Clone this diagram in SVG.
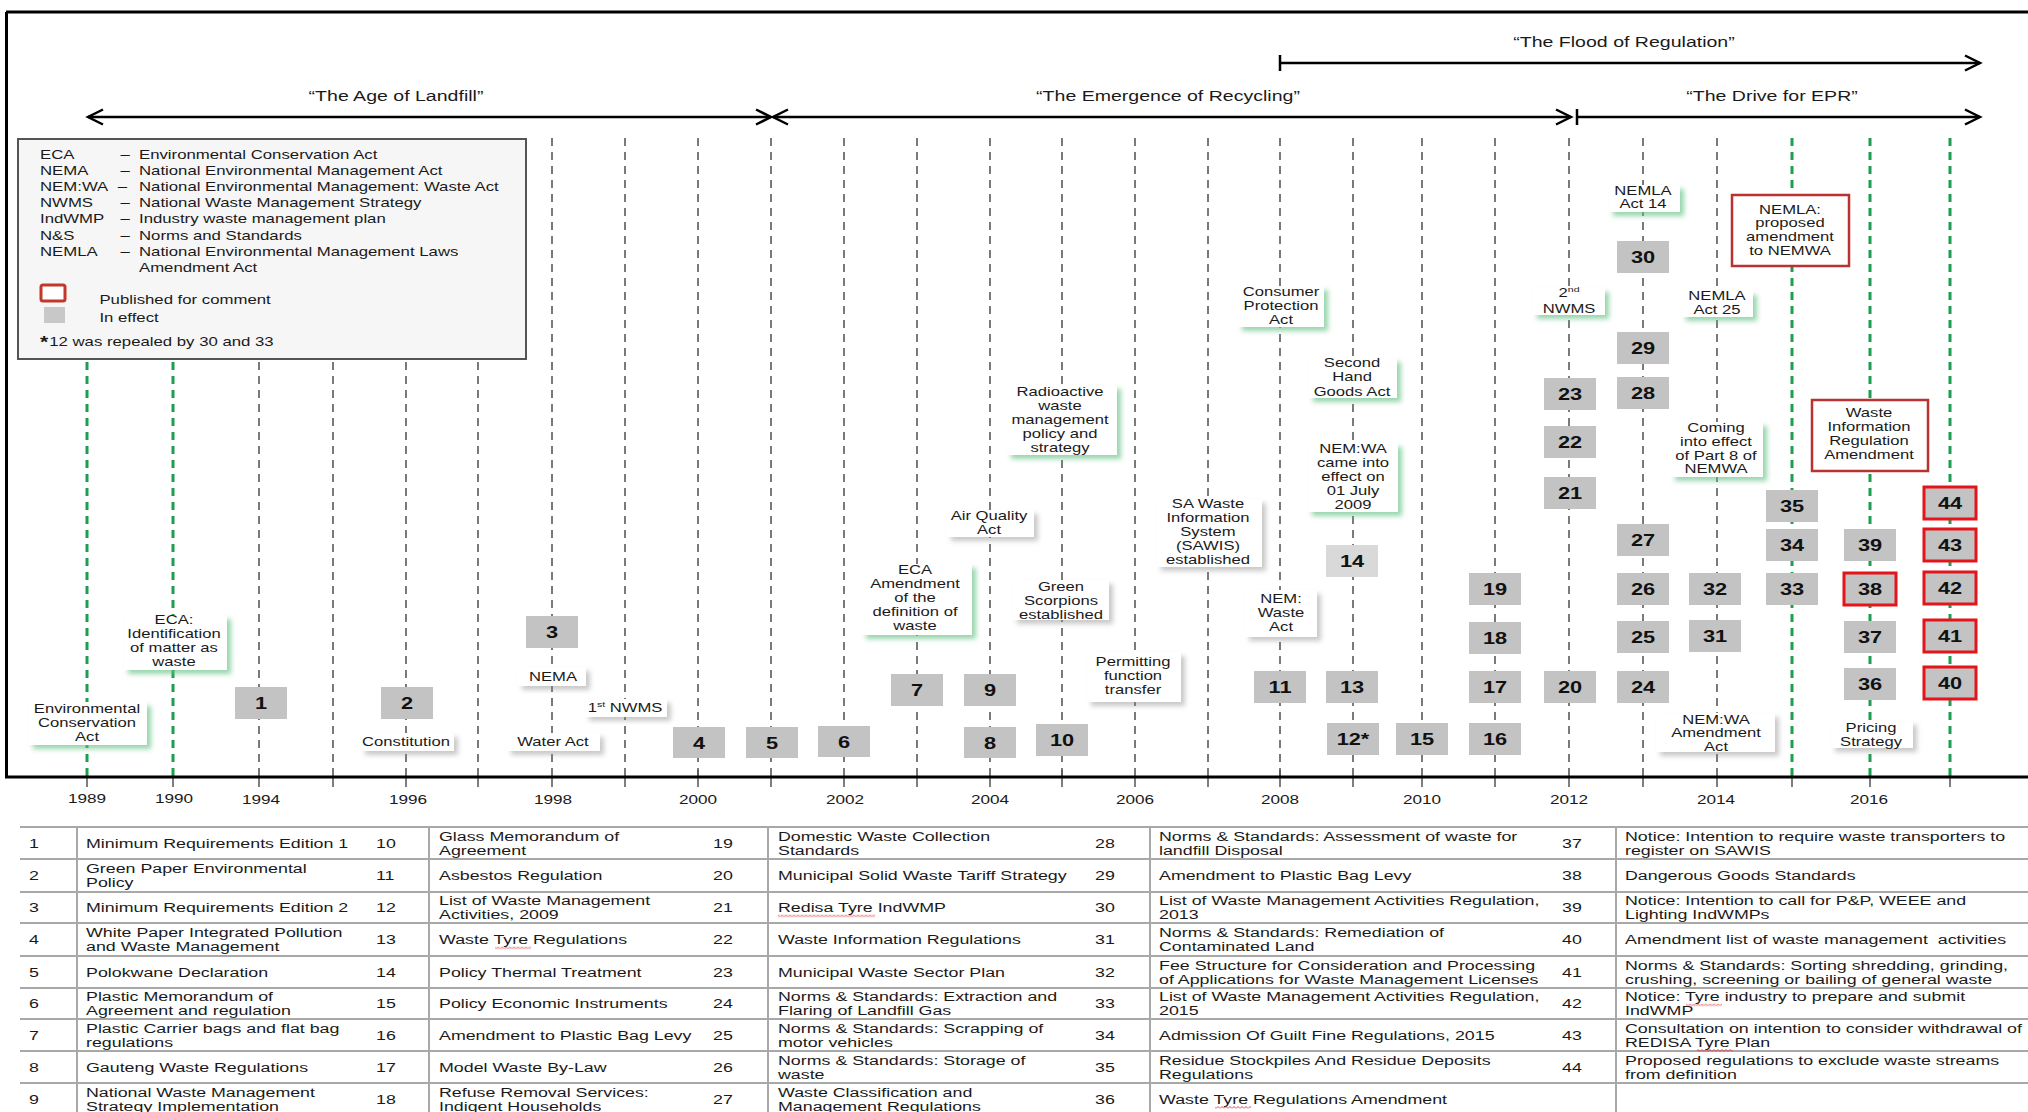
<svg xmlns="http://www.w3.org/2000/svg" width="2028" height="1112" viewBox="0 0 2028 1112">
<defs>
<style>
text{font-family:"Liberation Sans",Arial,sans-serif;fill:#1a1a1a}
.per{font-size:14.8px;text-anchor:middle}
.lg{font-size:12.7px}
.lb{font-size:12.6px;text-anchor:middle}
.num{font-size:16.5px;font-weight:bold;text-anchor:middle;fill:#111}
.yr{font-size:13px;text-anchor:middle}
.tb{font-size:13.5px}
.vg{stroke:#7a7a7a;stroke-width:2;stroke-dasharray:8 6;fill:none}
.vgr{stroke:#1f9e50;stroke-width:3;stroke-dasharray:8 6;fill:none}
.tk{stroke:#555;stroke-width:1.5;fill:none}
.frame{stroke:#000;stroke-width:3;fill:none}
.arr{stroke:#000;stroke-width:2.5;fill:none}
.nb rect{fill:#c3c3c3}
.nb.lt rect{fill:#d9d9d9}
.nb.red rect{stroke:#e3151a;stroke-width:3}
.lbx{fill:#fff}
.g{filter:url(#shg)}
.y{filter:url(#shy)}
.rbx{fill:#fff;stroke:#b83232;stroke-width:2.5}
.tl{stroke:#a8a8a8;stroke-width:2;fill:none}
.sq{fill:url(#sq)}
</style>
<filter id="shg" x="-20%" y="-20%" width="150%" height="160%"><feDropShadow dx="4" dy="4" stdDeviation="2.5" flood-color="#5fbf82" flood-opacity="0.65"/></filter>
<filter id="shy" x="-20%" y="-20%" width="150%" height="160%"><feDropShadow dx="4" dy="4" stdDeviation="2.5" flood-color="#888" flood-opacity="0.45"/></filter>
<marker id="ah" markerUnits="userSpaceOnUse" viewBox="-2 -2 20 20" markerWidth="20" markerHeight="20" refX="15" refY="7.5" orient="auto-start-reverse"><path d="M0,0 L15,7.5 L0,15" fill="none" stroke="#000" stroke-width="2.5"/></marker>
<pattern id="sq" width="4" height="3" patternUnits="userSpaceOnUse"><path d="M0,2.5 L2,0.5 L4,2.5" fill="none" stroke="#e03030" stroke-width="0.9"/></pattern>
</defs>
<rect x="0" y="0" width="2028" height="1112" fill="#fff"/>

<g id="gridlines">
<path class="vgr" d="M87,138V777M173,138V777M1792,138V777M1870,138V777M1950,138V777"/>
<path class="vg" d="M259,138V777M333,138V777M406,138V777M478,138V777M552,138V777M625,138V777M698,138V777M771,138V777M844,138V777M917,138V777M990,138V777M1062,138V777M1135,138V777M1208,138V777M1280,138V777M1353,138V777M1422,138V777M1495,138V777M1569,138V777M1643,138V777M1717,138V777"/>
<path class="tk" d="M87,777V787M173,777V787M259,777V787M333,777V787M406,777V787M478,777V787M552,777V787M625,777V787M698,770V787M771,777V787M844,777V787M917,777V787M990,777V787M1062,770V787M1135,777V787M1208,777V787M1280,770V787M1353,777V787M1422,777V787M1495,777V787M1569,777V787M1643,777V787M1717,777V787M1792,777V787M1870,777V787M1950,777V787"/>
</g>

<g id="frame">
<path class="frame" d="M6,12H2028M6.5,12V778M5,777H2028"/>
</g>

<g id="legend">
<rect x="18" y="139" width="508" height="220" fill="#f6f6f6" stroke="#555" stroke-width="2"/>
<g transform="translate(40,0) scale(1.32,1)" class="lg">
<text x="0" y="158.7">ECA</text><text x="61" y="158.7">–</text><text x="75" y="158.7">Environmental Conservation Act</text>
<text x="0" y="175">NEMA</text><text x="61" y="175">–</text><text x="75" y="175">National Environmental Management Act</text>
<text x="0" y="191.4">NEM:WA</text><text x="59" y="191.4">–</text><text x="75" y="191.4">National Environmental Management: Waste Act</text>
<text x="0" y="207.4">NWMS</text><text x="61" y="207.4">–</text><text x="75" y="207.4">National Waste Management Strategy</text>
<text x="0" y="223.4">IndWMP</text><text x="61" y="223.4" fill="#999">–</text><text x="75" y="223.4">Industry waste management plan</text>
<text x="0" y="240">N&amp;S</text><text x="61" y="240" fill="#999">–</text><text x="75" y="240">Norms and Standards</text>
<text x="0" y="256">NEMLA</text><text x="61" y="256">–</text><text x="75" y="256">National Environmental Management Laws</text>
<text x="75" y="272">Amendment Act</text>
<text x="45" y="304">Published for comment</text>
<text x="45" y="322.5">In effect</text>
<text x="0" y="348" font-weight="bold" font-size="16">*</text><text x="7" y="346.5">12 was repealed by 30 and 33</text>
</g>
<rect x="41" y="285" width="24" height="16" rx="2" fill="#fff" stroke="#c0392b" stroke-width="3"/>
<rect x="44" y="307" width="21" height="16" fill="#c8c8c8"/>
</g>

<g id="connectors">
<path class="arr" d="M1280,55V71M1577,109V125"/>
<path class="arr" d="M1280,63H1980" marker-end="url(#ah)"/>
<path class="arr" d="M88,117H771" marker-start="url(#ah)" marker-end="url(#ah)"/>
<path class="arr" d="M773,117H1571" marker-start="url(#ah)" marker-end="url(#ah)"/>
<path class="arr" d="M1577,117H1980" marker-end="url(#ah)"/>
</g>

<g id="periods">
<text class="per" transform="translate(1624,47) scale(1.32,1)">“The Flood of Regulation”</text>
<text class="per" transform="translate(396,101) scale(1.32,1)">“The Age of Landfill”</text>
<text class="per" transform="translate(1168,101) scale(1.32,1)">“The Emergence of Recycling”</text>
<text class="per" transform="translate(1772,101) scale(1.32,1)">“The Drive for EPR”</text>
</g>

<g id="labels">
<g id="l-eca-act"><rect class="lbx g" x="29" y="702" width="118" height="43"/><g transform="translate(87,0) scale(1.32,1)" class="lb"><text x="0" y="713.5">Environmental</text><text x="0" y="727.5">Conservation</text><text x="0" y="741.5">Act</text></g></g>
<g id="l-eca-ident"><rect class="lbx g" x="124" y="615" width="103" height="55"/><g transform="translate(174,0) scale(1.32,1)" class="lb"><text x="0" y="624.5">ECA:</text><text x="0" y="638.5">Identification</text><text x="0" y="652.5">of matter as</text><text x="0" y="666.5">waste</text></g></g>
<g id="l-nema"><rect class="lbx y" x="518" y="667" width="68" height="19"/><g transform="translate(553,0) scale(1.32,1)" class="lb"><text x="0" y="681.5">NEMA</text></g></g>
<g id="l-nwms1"><rect class="lbx y" x="585" y="699" width="82" height="18"/><g transform="translate(625,0) scale(1.32,1)" class="lb"><text x="0" y="712.5">1<tspan font-size="8" dy="-5">st</tspan><tspan dy="5"> NWMS</tspan></text></g></g>
<g id="l-constitution"><rect class="lbx y" x="361" y="733" width="93" height="18"/><g transform="translate(406,0) scale(1.32,1)" class="lb"><text x="0" y="746.5">Constitution</text></g></g>
<g id="l-water"><rect class="lbx y" x="507" y="733" width="93" height="18"/><g transform="translate(553,0) scale(1.32,1)" class="lb"><text x="0" y="746.5">Water Act</text></g></g>
<g id="l-eca-amend"><rect class="lbx g" x="862" y="564" width="110" height="71"/><g transform="translate(915,0) scale(1.32,1)" class="lb"><text x="0" y="574.5">ECA</text><text x="0" y="588.5">Amendment</text><text x="0" y="602.5">of the</text><text x="0" y="616.5">definition of</text><text x="0" y="630.5">waste</text></g></g>
<g id="l-airq"><rect class="lbx y" x="947" y="510" width="87" height="27"/><g transform="translate(989,0) scale(1.32,1)" class="lb"><text x="0" y="520.5">Air Quality</text><text x="0" y="534.5">Act</text></g></g>
<g id="l-radio"><rect class="lbx g" x="1007" y="385" width="110" height="70"/><g transform="translate(1060,0) scale(1.32,1)" class="lb"><text x="0" y="396.5">Radioactive</text><text x="0" y="410.5">waste</text><text x="0" y="424.5">management</text><text x="0" y="438.5">policy and</text><text x="0" y="452.5">strategy</text></g></g>
<g id="l-green"><rect class="lbx y" x="1013" y="580" width="96" height="40"/><g transform="translate(1061,0) scale(1.32,1)" class="lb"><text x="0" y="591.5">Green</text><text x="0" y="605.5">Scorpions</text><text x="0" y="619.5">established</text></g></g>
<g id="l-permit"><rect class="lbx y" x="1087" y="652" width="94" height="50"/><g transform="translate(1133,0) scale(1.32,1)" class="lb"><text x="0" y="666.5">Permitting</text><text x="0" y="680.5">function</text><text x="0" y="694">transfer</text></g></g>
<g id="l-sawis"><rect class="lbx y" x="1157" y="499" width="105" height="68"/><g transform="translate(1208,0) scale(1.32,1)" class="lb"><text x="0" y="508.5">SA Waste</text><text x="0" y="522.5">Information</text><text x="0" y="536.5">System</text><text x="0" y="550.5">(SAWIS)</text><text x="0" y="564.5">established</text></g></g>
<g id="l-consumer"><rect class="lbx g" x="1238" y="286" width="86" height="41"/><g transform="translate(1281,0) scale(1.32,1)" class="lb"><text x="0" y="296.5">Consumer</text><text x="0" y="310.5">Protection</text><text x="0" y="324.5">Act</text></g></g>
<g id="l-nemwaste"><rect class="lbx y" x="1245" y="590" width="72" height="47"/><g transform="translate(1281,0) scale(1.32,1)" class="lb"><text x="0" y="603.5">NEM:</text><text x="0" y="617.5">Waste</text><text x="0" y="631.5">Act</text></g></g>
<g id="l-secondhand"><rect class="lbx g" x="1309" y="358" width="88" height="40"/><g transform="translate(1352,0) scale(1.32,1)" class="lb"><text x="0" y="367.5">Second</text><text x="0" y="381.5">Hand</text><text x="0" y="396">Goods Act</text></g></g>
<g id="l-nemwa2009"><rect class="lbx g" x="1308" y="443" width="90" height="69"/><g transform="translate(1353,0) scale(1.32,1)" class="lb"><text x="0" y="453.5">NEM:WA</text><text x="0" y="467.5">came into</text><text x="0" y="481.5">effect on</text><text x="0" y="495.5">01 July</text><text x="0" y="509.5">2009</text></g></g>
<g id="l-nwms2"><rect class="lbx g" x="1533" y="288" width="72" height="27"/><g transform="translate(1569,0) scale(1.32,1)" class="lb"><text x="0" y="297.5">2<tspan font-size="8" dy="-5">nd</tspan></text><text x="0" y="313.5">NWMS</text></g></g>
<g id="l-nemla14"><rect class="lbx g" x="1609" y="185" width="71" height="27"/><g transform="translate(1643,0) scale(1.32,1)" class="lb"><text x="0" y="195.5">NEMLA</text><text x="0" y="208.5">Act 14</text></g></g>
<g id="l-nemla25"><rect class="lbx g" x="1682" y="291" width="71" height="26"/><g transform="translate(1717,0) scale(1.32,1)" class="lb"><text x="0" y="300.5">NEMLA</text><text x="0" y="314.5">Act 25</text></g></g>
<g id="l-nemla-prop"><rect class="rbx" x="1732" y="195" width="117" height="71"/><g transform="translate(1790,0) scale(1.32,1)" class="lb"><text x="0" y="214.5">NEMLA:</text><text x="0" y="227.5">proposed</text><text x="0" y="241.5">amendment</text><text x="0" y="255.5">to NEMWA</text></g></g>
<g id="l-coming"><rect class="lbx g" x="1671" y="422" width="92" height="55"/><g transform="translate(1716,0) scale(1.32,1)" class="lb"><text x="0" y="432.5">Coming</text><text x="0" y="446.5">into effect</text><text x="0" y="460.5">of Part 8 of</text><text x="0" y="473.5">NEMWA</text></g></g>
<g id="l-wira"><rect class="rbx" x="1812" y="400" width="116" height="71"/><g transform="translate(1869,0) scale(1.32,1)" class="lb"><text x="0" y="417.5">Waste</text><text x="0" y="431.5">Information</text><text x="0" y="445.5">Regulation</text><text x="0" y="459.5">Amendment</text></g></g>
<g id="l-nemwa-amend"><rect class="lbx y" x="1656" y="713" width="119" height="39"/><g transform="translate(1716,0) scale(1.32,1)" class="lb"><text x="0" y="724.5">NEM:WA</text><text x="0" y="737.5">Amendment</text><text x="0" y="751.5">Act</text></g></g>
<g id="l-pricing"><rect class="lbx y" x="1831" y="721" width="82" height="27"/><g transform="translate(1871,0) scale(1.32,1)" class="lb"><text x="0" y="732.5">Pricing</text><text x="0" y="746.5">Strategy</text></g></g>
</g>

<g id="numbers">
<g id="n1" class="nb"><rect x="235" y="687" width="52" height="32"/><text class="num" transform="translate(261,709) scale(1.32,1)">1</text></g>
<g id="n2" class="nb"><rect x="381" y="687" width="52" height="32"/><text class="num" transform="translate(407,709) scale(1.32,1)">2</text></g>
<g id="n3" class="nb"><rect x="526" y="616" width="52" height="32"/><text class="num" transform="translate(552,638) scale(1.32,1)">3</text></g>
<g id="n4" class="nb"><rect x="673" y="727" width="52" height="31"/><text class="num" transform="translate(699,749) scale(1.32,1)">4</text></g>
<g id="n5" class="nb"><rect x="746" y="727" width="52" height="31"/><text class="num" transform="translate(772,749) scale(1.32,1)">5</text></g>
<g id="n6" class="nb"><rect x="818" y="726" width="52" height="31"/><text class="num" transform="translate(844,748) scale(1.32,1)">6</text></g>
<g id="n7" class="nb"><rect x="891" y="674" width="52" height="32"/><text class="num" transform="translate(917,696) scale(1.32,1)">7</text></g>
<g id="n8" class="nb"><rect x="964" y="727" width="52" height="31"/><text class="num" transform="translate(990,749) scale(1.32,1)">8</text></g>
<g id="n9" class="nb"><rect x="964" y="674" width="52" height="32"/><text class="num" transform="translate(990,696) scale(1.32,1)">9</text></g>
<g id="n10" class="nb"><rect x="1036" y="724" width="52" height="32"/><text class="num" transform="translate(1062,746) scale(1.32,1)">10</text></g>
<g id="n11" class="nb"><rect x="1254" y="671" width="52" height="32"/><text class="num" transform="translate(1280,693) scale(1.32,1)">11</text></g>
<g id="n12" class="nb"><rect x="1327" y="723" width="52" height="32"/><text class="num" transform="translate(1353,745) scale(1.32,1)">12*</text></g>
<g id="n13" class="nb"><rect x="1326" y="671" width="52" height="32"/><text class="num" transform="translate(1352,693) scale(1.32,1)">13</text></g>
<g id="n14" class="nb lt"><rect x="1326" y="545" width="52" height="32"/><text class="num" transform="translate(1352,567) scale(1.32,1)">14</text></g>
<g id="n15" class="nb"><rect x="1396" y="723" width="52" height="32"/><text class="num" transform="translate(1422,745) scale(1.32,1)">15</text></g>
<g id="n16" class="nb"><rect x="1469" y="723" width="52" height="32"/><text class="num" transform="translate(1495,745) scale(1.32,1)">16</text></g>
<g id="n17" class="nb"><rect x="1469" y="671" width="52" height="32"/><text class="num" transform="translate(1495,693) scale(1.32,1)">17</text></g>
<g id="n18" class="nb"><rect x="1469" y="622" width="52" height="32"/><text class="num" transform="translate(1495,644) scale(1.32,1)">18</text></g>
<g id="n19" class="nb"><rect x="1469" y="573" width="52" height="32"/><text class="num" transform="translate(1495,595) scale(1.32,1)">19</text></g>
<g id="n20" class="nb"><rect x="1544" y="671" width="52" height="32"/><text class="num" transform="translate(1570,693) scale(1.32,1)">20</text></g>
<g id="n21" class="nb"><rect x="1544" y="477" width="52" height="32"/><text class="num" transform="translate(1570,499) scale(1.32,1)">21</text></g>
<g id="n22" class="nb"><rect x="1544" y="426" width="52" height="32"/><text class="num" transform="translate(1570,448) scale(1.32,1)">22</text></g>
<g id="n23" class="nb"><rect x="1544" y="378" width="52" height="32"/><text class="num" transform="translate(1570,400) scale(1.32,1)">23</text></g>
<g id="n24" class="nb"><rect x="1617" y="671" width="52" height="32"/><text class="num" transform="translate(1643,693) scale(1.32,1)">24</text></g>
<g id="n25" class="nb"><rect x="1617" y="621" width="52" height="32"/><text class="num" transform="translate(1643,643) scale(1.32,1)">25</text></g>
<g id="n26" class="nb"><rect x="1617" y="573" width="52" height="32"/><text class="num" transform="translate(1643,595) scale(1.32,1)">26</text></g>
<g id="n27" class="nb"><rect x="1617" y="524" width="52" height="32"/><text class="num" transform="translate(1643,546) scale(1.32,1)">27</text></g>
<g id="n28" class="nb"><rect x="1617" y="377" width="52" height="32"/><text class="num" transform="translate(1643,399) scale(1.32,1)">28</text></g>
<g id="n29" class="nb"><rect x="1617" y="332" width="52" height="32"/><text class="num" transform="translate(1643,354) scale(1.32,1)">29</text></g>
<g id="n30" class="nb"><rect x="1617" y="241" width="52" height="32"/><text class="num" transform="translate(1643,263) scale(1.32,1)">30</text></g>
<g id="n31" class="nb"><rect x="1689" y="620" width="52" height="32"/><text class="num" transform="translate(1715,642) scale(1.32,1)">31</text></g>
<g id="n32" class="nb"><rect x="1689" y="573" width="52" height="32"/><text class="num" transform="translate(1715,595) scale(1.32,1)">32</text></g>
<g id="n33" class="nb"><rect x="1766" y="573" width="52" height="32"/><text class="num" transform="translate(1792,595) scale(1.32,1)">33</text></g>
<g id="n34" class="nb"><rect x="1766" y="529" width="52" height="32"/><text class="num" transform="translate(1792,551) scale(1.32,1)">34</text></g>
<g id="n35" class="nb"><rect x="1766" y="490" width="52" height="32"/><text class="num" transform="translate(1792,512) scale(1.32,1)">35</text></g>
<g id="n36" class="nb"><rect x="1844" y="668" width="52" height="32"/><text class="num" transform="translate(1870,690) scale(1.32,1)">36</text></g>
<g id="n37" class="nb"><rect x="1844" y="621" width="52" height="32"/><text class="num" transform="translate(1870,643) scale(1.32,1)">37</text></g>
<g id="n38" class="nb red"><rect x="1844" y="573" width="52" height="32"/><text class="num" transform="translate(1870,595) scale(1.32,1)">38</text></g>
<g id="n39" class="nb"><rect x="1844" y="529" width="52" height="32"/><text class="num" transform="translate(1870,551) scale(1.32,1)">39</text></g>
<g id="n40" class="nb red"><rect x="1924" y="667" width="52" height="32"/><text class="num" transform="translate(1950,689) scale(1.32,1)">40</text></g>
<g id="n41" class="nb red"><rect x="1924" y="620" width="52" height="32"/><text class="num" transform="translate(1950,642) scale(1.32,1)">41</text></g>
<g id="n42" class="nb red"><rect x="1924" y="572" width="52" height="32"/><text class="num" transform="translate(1950,594) scale(1.32,1)">42</text></g>
<g id="n43" class="nb red"><rect x="1924" y="529" width="52" height="32"/><text class="num" transform="translate(1950,551) scale(1.32,1)">43</text></g>
<g id="n44" class="nb red"><rect x="1924" y="487" width="52" height="32"/><text class="num" transform="translate(1950,509) scale(1.32,1)">44</text></g>
</g>

<g id="years" class="yr">
<text transform="translate(87,803) scale(1.32,1)">1989</text>
<text transform="translate(174,803) scale(1.32,1)">1990</text>
<text transform="translate(261,804) scale(1.32,1)">1994</text>
<text transform="translate(408,804) scale(1.32,1)">1996</text>
<text transform="translate(553,804) scale(1.32,1)">1998</text>
<text transform="translate(698,804) scale(1.32,1)">2000</text>
<text transform="translate(845,804) scale(1.32,1)">2002</text>
<text transform="translate(990,804) scale(1.32,1)">2004</text>
<text transform="translate(1135,804) scale(1.32,1)">2006</text>
<text transform="translate(1280,804) scale(1.32,1)">2008</text>
<text transform="translate(1422,804) scale(1.32,1)">2010</text>
<text transform="translate(1569,804) scale(1.32,1)">2012</text>
<text transform="translate(1716,804) scale(1.32,1)">2014</text>
<text transform="translate(1869,804) scale(1.32,1)">2016</text>
</g>

<g id="table">
<path class="tl" d="M20,827H2028M20,859H2028M20,892H2028M20,923H2028M20,956H2028M20,988H2028M20,1019H2028M20,1051H2028M20,1083H2028"/>
<path class="tl" d="M77,827V1112M429,827V1112M768,827V1112M1150,827V1112M1616,827V1112"/>
<g class="tb" transform="translate(29,0) scale(1.32,1)">
<text x="0" y="848">1</text><text x="0" y="880.5">2</text><text x="0" y="912.5">3</text><text x="0" y="944.5">4</text><text x="0" y="977">5</text><text x="0" y="1008.5">6</text><text x="0" y="1040">7</text><text x="0" y="1072">8</text><text x="0" y="1104">9</text>
</g>
<g class="tb" transform="translate(86,0) scale(1.32,1)">
<text x="0" y="848">Minimum Requirements Edition 1</text>
<text x="0" y="873.5">Green Paper Environmental</text><text x="0" y="887.5">Policy</text>
<text x="0" y="912.5">Minimum Requirements Edition 2</text>
<text x="0" y="937.5">White Paper  Integrated Pollution</text><text x="0" y="951.5">and Waste Management</text>
<text x="0" y="977">Polokwane Declaration</text>
<text x="0" y="1001.5">Plastic Memorandum of</text><text x="0" y="1015.5">Agreement and regulation</text>
<text x="0" y="1033">Plastic Carrier bags and flat bag</text><text x="0" y="1047">regulations</text>
<text x="0" y="1072">Gauteng Waste Regulations</text>
<text x="0" y="1097">National Waste Management</text><text x="0" y="1111">Strategy Implementation</text>
</g>
<g class="tb" transform="translate(376,0) scale(1.32,1)">
<text x="0" y="848">10</text><text x="0" y="880.5">11</text><text x="0" y="912.5">12</text><text x="0" y="944.5">13</text><text x="0" y="977">14</text><text x="0" y="1008.5">15</text><text x="0" y="1040">16</text><text x="0" y="1072">17</text><text x="0" y="1104">18</text>
</g>
<g class="tb" transform="translate(439,0) scale(1.32,1)">
<text x="0" y="841">Glass Memorandum of</text><text x="0" y="855">Agreement</text>
<text x="0" y="880.5">Asbestos Regulation</text>
<text x="0" y="905.5">List of Waste Management</text><text x="0" y="919.5">Activities, 2009</text>
<text x="0" y="944.5">Waste Tyre Regulations</text>
<text x="0" y="977">Policy Thermal Treatment</text>
<text x="0" y="1008.5">Policy Economic Instruments</text>
<text x="0" y="1040">Amendment to Plastic Bag Levy</text>
<text x="0" y="1072">Model Waste By-Law</text>
<text x="0" y="1097">Refuse Removal Services:</text><text x="0" y="1111">Indigent Households</text>
</g>
<g class="tb" transform="translate(713,0) scale(1.32,1)">
<text x="0" y="848">19</text><text x="0" y="880.5">20</text><text x="0" y="912.5">21</text><text x="0" y="944.5">22</text><text x="0" y="977">23</text><text x="0" y="1008.5">24</text><text x="0" y="1040">25</text><text x="0" y="1072">26</text><text x="0" y="1104">27</text>
</g>
<g class="tb" transform="translate(778,0) scale(1.32,1)">
<text x="0" y="841">Domestic Waste Collection</text><text x="0" y="855">Standards</text>
<text x="0" y="880.5">Municipal Solid Waste Tariff Strategy</text>
<text x="0" y="912.5">Redisa Tyre IndWMP</text>
<text x="0" y="944.5">Waste Information Regulations</text>
<text x="0" y="977">Municipal Waste Sector Plan</text>
<text x="0" y="1001.5">Norms &amp; Standards: Extraction and</text><text x="0" y="1015.5">Flaring of Landfill Gas</text>
<text x="0" y="1033">Norms &amp; Standards: Scrapping of</text><text x="0" y="1047">motor vehicles</text>
<text x="0" y="1065">Norms &amp; Standards: Storage of</text><text x="0" y="1079">waste</text>
<text x="0" y="1097">Waste Classification and</text><text x="0" y="1111">Management Regulations</text>
</g>
<g class="tb" transform="translate(1095,0) scale(1.32,1)">
<text x="0" y="848">28</text><text x="0" y="880.5">29</text><text x="0" y="912.5">30</text><text x="0" y="944.5">31</text><text x="0" y="977">32</text><text x="0" y="1008.5">33</text><text x="0" y="1040">34</text><text x="0" y="1072">35</text><text x="0" y="1104">36</text>
</g>
<g class="tb" transform="translate(1159,0) scale(1.32,1)">
<text x="0" y="841">Norms &amp; Standards: Assessment of waste for</text><text x="0" y="855">landfill Disposal</text>
<text x="0" y="880.5">Amendment to Plastic Bag Levy</text>
<text x="0" y="905.5">List of Waste Management Activities Regulation,</text><text x="0" y="919.5">2013</text>
<text x="0" y="937.5">Norms &amp; Standards: Remediation of</text><text x="0" y="951.5">Contaminated Land</text>
<text x="0" y="970">Fee Structure for Consideration and Processing</text><text x="0" y="984">of Applications for Waste Management Licenses</text>
<text x="0" y="1001.5">List of Waste Management Activities Regulation,</text><text x="0" y="1015.5">2015</text>
<text x="0" y="1040">Admission Of Guilt Fine Regulations, 2015</text>
<text x="0" y="1065">Residue Stockpiles And Residue Deposits</text><text x="0" y="1079">Regulations</text>
<text x="0" y="1104">Waste Tyre Regulations Amendment</text>
</g>
<g class="tb" transform="translate(1562,0) scale(1.32,1)">
<text x="0" y="848">37</text><text x="0" y="880.5">38</text><text x="0" y="912.5">39</text><text x="0" y="944.5">40</text><text x="0" y="977">41</text><text x="0" y="1008.5">42</text><text x="0" y="1040">43</text><text x="0" y="1072">44</text>
</g>
<g class="tb" transform="translate(1625,0) scale(1.32,1)">
<text x="0" y="841">Notice: Intention to require waste transporters to</text><text x="0" y="855">register on SAWIS</text>
<text x="0" y="880.5">Dangerous Goods Standards</text>
<text x="0" y="905.5">Notice: Intention to call for P&amp;P, WEEE and</text><text x="0" y="919.5">Lighting IndWMPs</text>
<text x="0" y="944.5" xml:space="preserve">Amendment list of waste management  activities</text>
<text x="0" y="970">Norms &amp; Standards: Sorting shredding, grinding,</text><text x="0" y="984">crushing, screening or bailing of general waste</text>
<text x="0" y="1001.5">Notice: Tyre industry to prepare and submit</text><text x="0" y="1015.5">IndWMP</text>
<text x="0" y="1033">Consultation on intention to consider withdrawal of</text><text x="0" y="1047">REDISA Tyre Plan</text>
<text x="0" y="1065">Proposed regulations to exclude waste streams</text><text x="0" y="1079">from definition</text>
</g>
<g id="spellmarks">
<rect class="sq" x="495" y="0" width="36" height="3" transform="translate(0,946.5)"/>
<rect class="sq" x="778" y="0" width="97" height="3" transform="translate(0,914.5)"/>
<rect class="sq" x="1215" y="0" width="36" height="3" transform="translate(0,1106)"/>
<rect class="sq" x="1686" y="0" width="36" height="3" transform="translate(0,1003.5)"/>
<rect class="sq" x="1697" y="0" width="36" height="3" transform="translate(0,1049)"/>
</g>
</g>
</svg>
